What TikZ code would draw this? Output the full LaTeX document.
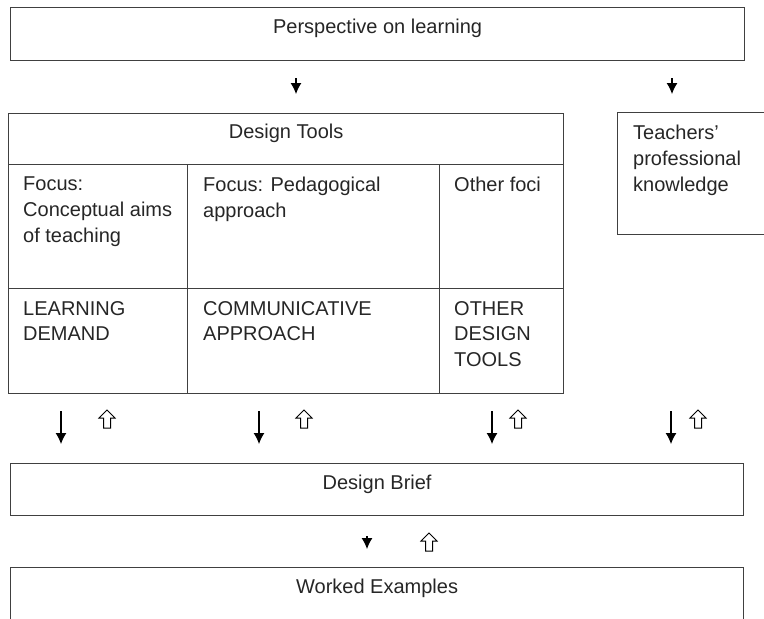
\documentclass[tikz,border=0pt]{standalone}
\usepackage{fontspec}
\setmainfont{Liberation Sans}
\usetikzlibrary{arrows.meta}

\begin{document}
\begin{tikzpicture}[x=1pt, y=-1pt, >={Latex[length=11pt,width=11pt]},
    box/.style={draw=black!75, line width=1.2pt, inner sep=0pt, anchor=north west},
    txt/.style={anchor=north west, inner sep=0pt, align=left, text=black!85,
        font=\fontsize{20}{25.7}\selectfont},
    ctxt/.style={txt, anchor=base},
    down/.style={->, line width=1.1pt, black},
    uparrow/.pic={\draw[line width=1pt, fill=white] (-3.5,0) -- (-3.5,-10) -- (-8,-10)
        -- (0,-18) -- (8,-10) -- (3.5,-10) -- (3.5,0) -- cycle;}]
    \useasboundingbox (0,0) rectangle (764,619);
    \clip (0,0) rectangle (764,619);

    % boxes
    \node[box, minimum width=734pt, minimum height=53pt] (persp) at (10,7) {};
    \node[box, minimum width=555pt, minimum height=51pt] (head) at (8,113) {};
    \node[box, minimum width=179pt, minimum height=124pt] (aims) at (8,164) {};
    \node[box, minimum width=252pt, minimum height=124pt] (pedag) at (187,164) {};
    \node[box, minimum width=124pt, minimum height=124pt] (foci) at (439,164) {};
    \node[box, minimum width=179pt, minimum height=105pt] (demand) at (8,288) {};
    \node[box, minimum width=252pt, minimum height=105pt] (commun) at (187,288) {};
    \node[box, minimum width=124pt, minimum height=105pt] (other) at (439,288) {};
    \node[box, minimum width=170pt, minimum height=122pt] (teach) at (617,112) {};
    \node[box, minimum width=733pt, minimum height=52pt] (brief) at (10,463) {};
    \node[box, minimum width=733pt, minimum height=60pt] (worked) at (10,567) {};

    % texts
    \node[ctxt] (persp text) at ([yshift=-26pt]persp.north) {Perspective on learning};
    \node[ctxt] (head text) at ([yshift=-25pt]head.north) {Design Tools};
    \node[txt] (aims text) at ([shift={(15pt,-13pt)}]aims.north west) {Focus:\\Conceptual aims\\of teaching};
    \node[txt] (pedag text) at ([shift={(16pt,-13pt)}]pedag.north west) {Focus: Pedagogical\\approach};
    \node[txt] (foci text) at ([shift={(15pt,-13pt)}]foci.north west) {Other foci};
    \node[txt] (demand text) at ([shift={(15pt,-13pt)}]demand.north west) {LEARNING\\DEMAND};
    \node[txt] (commun text) at ([shift={(16pt,-13pt)}]commun.north west) {COMMUNICATIVE\\APPROACH};
    \node[txt] (other text) at ([shift={(15pt,-13pt)}]other.north west) {OTHER\\DESIGN\\TOOLS};
    \node[txt] (teach text) at ([shift={(16pt,-13pt)}]teach.north west) {Teachers'\\professional\\knowledge};
    \node[ctxt] (brief text) at ([yshift=-26pt]brief.north) {Design Brief};
    \node[ctxt] (worked text) at ([yshift=-26pt]worked.north) {Worked Examples};

    % arrow columns
    \coordinate (c1) at (296,0);
    \coordinate (c2) at (672,0);
    \coordinate (d1) at (61,0);
    \coordinate (d2) at (259,0);
    \coordinate (d3) at (492,0);
    \coordinate (d4) at (671,0);
    \coordinate (d5) at (367,0);

    \draw[down, shorten <=17pt, shorten >=19pt] (persp.south -| c1) -- (head.north -| c1);
    \draw[down, shorten <=17pt, shorten >=18pt] (persp.south -| c2) -- (teach.north -| c2);
    \draw[down, shorten <=17pt, shorten >=19pt] (demand.south -| d1) -- (brief.north -| d1);
    \draw[down, shorten <=17pt, shorten >=19pt] (commun.south -| d2) -- (brief.north -| d2);
    \draw[down, shorten <=17pt, shorten >=19pt] (other.south -| d3) -- (brief.north -| d3);
    \draw[down, shorten <=176pt, shorten >=19pt] (teach.south -| d4) -- (brief.north -| d4);
    \draw[down, shorten <=20pt, shorten >=18pt] (brief.south -| d5) -- (worked.north -| d5);

    \pic at (107,428) {uparrow};
    \pic at (304,428) {uparrow};
    \pic at (518,428) {uparrow};
    \pic at (698,428) {uparrow};
    \pic at (429,551) {uparrow};
\end{tikzpicture}
\end{document}
